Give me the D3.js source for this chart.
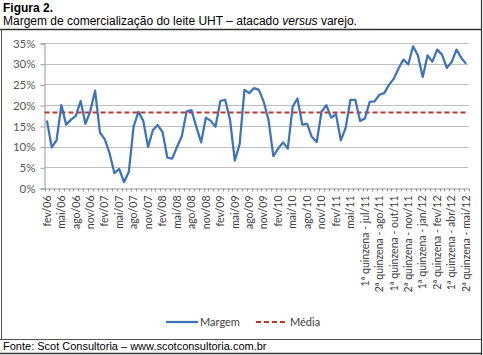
<!DOCTYPE html>
<html><head><meta charset="utf-8">
<script src="https://cdn.jsdelivr.net/npm/d3@7/dist/d3.min.js"></script>
<style>
html,body{margin:0;padding:0;background:#fff;}
svg{display:block;}
</style></head>
<body>
<script>
const categories = [
"fev/06","mar/06","abr/06","mai/06","jun/06","jul/06","ago/06","set/06","out/06","nov/06","dez/06","jan/07",
"fev/07","mar/07","abr/07","mai/07","jun/07","jul/07","ago/07","set/07","out/07","nov/07","dez/07","jan/08",
"fev/08","mar/08","abr/08","mai/08","jun/08","jul/08","ago/08","set/08","out/08","nov/08","dez/08","jan/09",
"fev/09","mar/09","abr/09","mai/09","jun/09","jul/09","ago/09","set/09","out/09","nov/09","dez/09","jan/10",
"fev/10","mar/10","abr/10","mai/10","jun/10","jul/10","ago/10","set/10","out/10","nov/10","dez/10","jan/11",
"fev/11","mar/11","abr/11","mai/11",
"1ª quinzena - jun/11","2ª quinzena - jun/11","1ª quinzena - jul/11","2ª quinzena - jul/11",
"1ª quinzena - ago/11","2ª quinzena - ago/11","1ª quinzena - set/11","2ª quinzena - set/11",
"1ª quinzena - out/11","2ª quinzena - out/11","1ª quinzena - nov/11","2ª quinzena - nov/11",
"1ª quinzena - dez/11","2ª quinzena - dez/11","1ª quinzena - jan/12","2ª quinzena - jan/12",
"1ª quinzena - fev/12","2ª quinzena - fev/12","1ª quinzena - mar/12","2ª quinzena - mar/12",
"1ª quinzena - abr/12","2ª quinzena - abr/12","1ª quinzena - mai/12","2ª quinzena - mai/12"
];
const margem = [
16.3,9.8,11.5,20.0,15.3,16.5,17.4,21.0,15.5,18.5,23.5,13.4,
11.8,8.4,3.6,4.6,1.4,3.9,14.9,18.4,16.2,9.9,14.0,15.2,
13.5,7.3,7.1,9.9,12.5,18.5,18.8,14.8,11.0,17.0,16.2,14.8,
21.0,21.3,16.5,6.6,10.6,23.7,22.9,24.1,23.7,20.8,16.4,7.7,
9.5,11.0,9.5,19.6,21.6,15.3,15.5,12.3,11.1,18.4,20.0,17.0,
17.8,11.5,14.5,21.3,
21.3,16.2,16.8,20.8,20.9,22.5,22.9,24.9,26.4,28.9,31.0,29.8,
34.2,32.0,26.8,32.0,30.5,33.4,32.2,29.0,30.4,33.4,31.4,30.0
];
const mediaValue = 18.2;
const yTicks = [0,5,10,15,20,25,30,35];
const seriesNames = ["Margem","Média"];
const titleText = "Figura 2.";
const footerText = "Fonte: Scot Consultoria – www.scotconsultoria.com.br";

const W = 483, H = 355;
const svg = d3.select("body").append("svg").attr("width", W).attr("height", H);
svg.append("rect").attr("width", W).attr("height", H).attr("fill", "#fff");

// frame
svg.append("line").attr("x1",0).attr("x2",482).attr("y1",29.5).attr("y2",29.5).attr("stroke","#333").attr("stroke-width",1.5);
svg.append("line").attr("x1",1.5).attr("x2",1.5).attr("y1",29).attr("y2",339).attr("stroke","#555").attr("stroke-width",1);
svg.append("line").attr("x1",0).attr("x2",482).attr("y1",339.5).attr("y2",339.5).attr("stroke","#555").attr("stroke-width",1);
svg.append("line").attr("x1",481.5).attr("x2",481.5).attr("y1",0).attr("y2",355).attr("stroke","#333").attr("stroke-width",1.2);
svg.append("line").attr("x1",0).attr("x2",482).attr("y1",353.5).attr("y2",353.5).attr("stroke","#333").attr("stroke-width",1.5);

// titles
svg.append("text").attr("x",3).attr("y",11.5).attr("font-family","Liberation Sans, Arial").attr("font-size",12)
  .attr("font-weight","bold").attr("fill","#000").text(titleText);
const sub = svg.append("text").attr("x",3).attr("y",24.5).attr("font-family","Liberation Sans, Arial").attr("font-size",12).attr("fill","#000");
sub.append("tspan").text("Margem de comercialização do leite UHT – atacado ");
sub.append("tspan").attr("font-style","italic").text("versus");
sub.append("tspan").text(" varejo.");
svg.append("text").attr("x",3).attr("y",350).attr("font-family","Liberation Sans, Arial").attr("font-size",11)
  .attr("fill","#000").text(footerText);

// scales
const x = d3.scaleBand().domain(categories).range([44.5, 468.5]).padding(0);
const y = d3.scaleLinear().domain([0,35]).range([188, 43]);
const cx = c => x(c) + x.bandwidth()/2;

// gridlines
svg.append("g").selectAll("line").data(yTicks.filter(d=>d>0)).join("line")
  .attr("x1",44.5).attr("x2",468.5).attr("y1",d=>Math.round(y(d))+0.5).attr("y2",d=>Math.round(y(d))+0.5)
  .attr("stroke","#bfbfbf").attr("stroke-width",1);

// y axis
const yAxis = d3.axisLeft(y).tickValues(yTicks).tickFormat(d=>d+"%").tickSize(4).tickPadding(5);
const gy = svg.append("g").attr("transform","translate(44.5,0.5)").call(yAxis);
gy.select(".domain").attr("stroke","#999");
gy.selectAll(".tick line").attr("stroke","#999");
gy.selectAll("text").attr("font-family","Lato, Open Sans, sans-serif").attr("font-size",11.5).attr("fill","#595959");

// x axis
const xAxis = d3.axisBottom(x).tickSizeOuter(0).tickSize(0).tickFormat((d,i)=> i%3===0 ? d : "");
const gx = svg.append("g").attr("transform","translate(0,188.5)").call(xAxis);
gx.select(".domain").attr("stroke","#999");
gx.selectAll(".tick text").attr("font-family","Lato, Open Sans, sans-serif").attr("font-size",10.5).attr("fill","#404040")
  .attr("text-anchor","end").attr("transform","rotate(-90)").attr("x",-7).attr("y",0).attr("dy","0.35em");
// minor ticks at category boundaries
svg.append("g").selectAll("line").data(categories.concat(["__end"])).join("line")
  .attr("x1",(d,i)=> Math.round(i<categories.length ? x(d) : x.range()[1])+0.5)
  .attr("x2",(d,i)=> Math.round(i<categories.length ? x(d) : x.range()[1])+0.5)
  .attr("y1",188.5).attr("y2",191.5).attr("stroke","#999").attr("stroke-width",1);

// média line
svg.append("line").attr("x1",44.5).attr("x2",468.5).attr("y1",y(mediaValue)).attr("y2",y(mediaValue))
  .attr("stroke","#c0392b").attr("stroke-width",2).attr("stroke-dasharray","5,3");

// margem line
const line = d3.line().x((d,i)=>cx(categories[i])).y(d=>y(d));
svg.append("path").datum(margem).attr("d",line).attr("fill","none")
  .attr("stroke","#3c73ba").attr("stroke-width",2.25).attr("stroke-linejoin","round");

// legend
const lg = svg.append("g").attr("font-family","Lato, Open Sans, sans-serif").attr("font-size",11).attr("fill","#404040");
lg.append("line").attr("x1",166).attr("x2",198).attr("y1",322).attr("y2",322).attr("stroke","#3c73ba").attr("stroke-width",2.25);
lg.append("text").attr("x",200).attr("y",326).text(seriesNames[0]);
lg.append("line").attr("x1",256).attr("x2",288).attr("y1",322).attr("y2",322).attr("stroke","#c0392b").attr("stroke-width",2).attr("stroke-dasharray","5,3");
lg.append("text").attr("x",290).attr("y",326).text(seriesNames[1]);
</script>
</body></html>
